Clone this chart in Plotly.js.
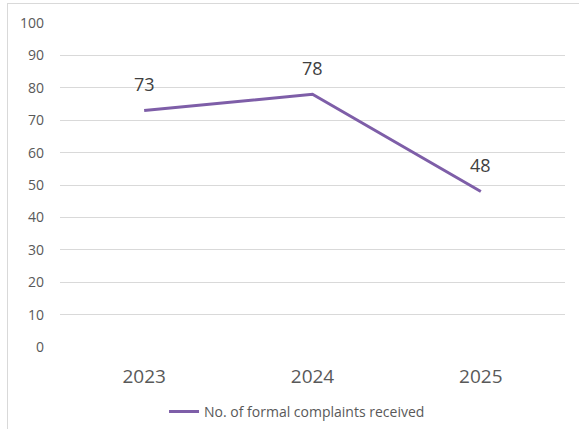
<!DOCTYPE html>
<html><head><meta charset="utf-8">
<script src="https://cdn.plot.ly/plotly-3.0.1.min.js"></script>
<style>
html,body{margin:0;padding:0;background:#fff;overflow:hidden;}
#frame{position:absolute;left:7px;top:3px;width:700px;height:600px;border:1px solid #d9d9d9;box-sizing:border-box;}
#chart{position:absolute;left:0;top:0;width:579px;height:470px;}
</style></head>
<body>
<div id="frame"></div>
<div id="chart"></div>
<script>
const years = ["2023", "2024", "2025"];
const complaints = [73, 78, 48];
const seriesName = "No. of formal complaints received";
const yTicks = [0, 10, 20, 30, 40, 50, 60, 70, 80, 90, 100];

const font = "Segoe UI, 'Open Sans', 'Noto Sans', sans-serif";
const grey = "#595959";

const trace = {
  x: years, y: complaints, type: "scatter", mode: "lines", name: seriesName,
  line: {color: "#7e5ea8", width: 3}, hoverinfo: "skip"
};

const annotations = years.map((yr, i) => ({
  x: i, y: complaints[i], xref: "x", yref: "y", text: String(complaints[i]),
  showarrow: false, yshift: 26, font: {family: font, size: 18, color: "#404040"}
}));

const layout = {
  width: 579, height: 470,
  margin: {l: 60, r: 14, t: 23, b: 123},
  paper_bgcolor: "rgba(0,0,0,0)", plot_bgcolor: "rgba(0,0,0,0)",
  showlegend: true,
  legend: {orientation: "h", x: 0.206, xanchor: "left", y: -0.2, yanchor: "middle",
    font: {family: font, size: 14, color: grey}},
  xaxis: {type: "category", range: [-0.5, 2.5], showgrid: false, zeroline: false,
    showline: false, ticks: "", ticklabelstandoff: 16, automargin: false,
    tickfont: {family: font, size: 19, color: grey}},
  yaxis: {range: [0, 100], tickvals: yTicks, showgrid: true, gridcolor: "#d9d9d9",
    gridwidth: 1, zeroline: false, showline: false, ticks: "", ticklabelstandoff: 15,
    automargin: false, tickfont: {family: font, size: 14, color: grey}},
  annotations: annotations
};

Plotly.newPlot("chart", [trace], layout, {displayModeBar: false, staticPlot: true});
</script>
</body></html>
